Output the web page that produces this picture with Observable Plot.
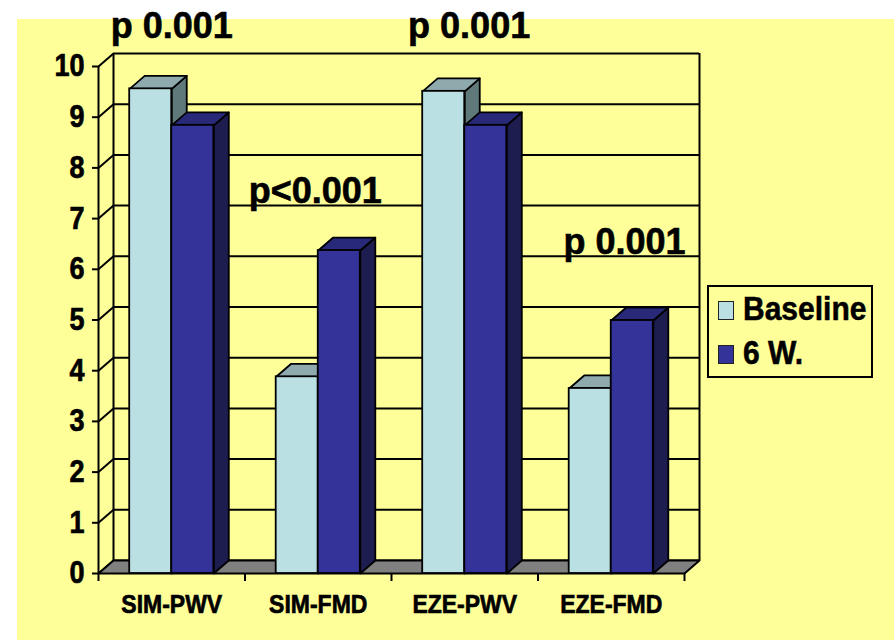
<!DOCTYPE html>
<html>
<head>
<meta charset="utf-8">
<script src="https://cdn.jsdelivr.net/npm/d3@7"></script>
<script src="https://cdn.jsdelivr.net/npm/@observablehq/plot@0.6"></script>
<style>
  html, body { margin: 0; padding: 0; background: #fff; }
  #page { position: relative; width: 894px; height: 640px; overflow: hidden; font-family: "Liberation Sans", Arial, sans-serif; }
  #panel { position: absolute; left: 17px; top: 19px; right: 0; bottom: 0; background: #ffff99; }
  #chart { position: absolute; left: 0; top: 0; }
  .legend { position: absolute; left: 707px; top: 285px; width: 166px; height: 93px; box-sizing: border-box; border: 2px solid #000; background: #ffff99; }
  .legend .sw { position: absolute; left: 9px; width: 16px; height: 19px; box-sizing: border-box; border: 1.5px solid #222; }
  .legend .lb { position: absolute; left: 34px; font-size: 30px; line-height: 30px; font-weight: bold; color: #000; white-space: nowrap; transform: scaleY(1.08); transform-origin: 0 80%; -webkit-text-stroke: 0.5px #000; }
</style>
</head>
<body>
<div id="page"><div id="panel"></div><div id="chart"></div><div class="legend" id="legend"></div></div>
<script>
const categories = ["SIM-PWV", "SIM-FMD", "EZE-PWV", "EZE-FMD"];
const seriesNames = ["Baseline", "6 W."];
const baselineValues = [9.56, 3.88, 9.51, 3.65];
const sixWeekValues = [8.84, 6.37, 8.84, 4.99];
const yTicks = [0, 1, 2, 3, 4, 5, 6, 7, 8, 9, 10];
const pLabels = ["p 0.001", "p<0.001", "p 0.001", "p 0.001"];

// face colours per series: front, top, side
const faceColors = {
  "Baseline": {front: "#bbe0e3", top: "#8eaaad", side: "#5f7879"},
  "6 W.": {front: "#333399", top: "#29297a", side: "#1d1d4f"}
};

const W = 894, H = 640;
const margin = {top: 66, right: 210, bottom: 67, left: 98};
const nCat = categories.length;
const yMax = 10;
const xUnit = (W - margin.left - margin.right) / nCat;
const yUnit = (H - margin.top - margin.bottom) / yMax;
const DX = 15 / xUnit;   // depth offset of the 3D box, in x units
const DY = 13 / yUnit;   // depth offset of the 3D box, in y units
const barW = 0.287;      // width of one column, in category units
// p-value text placement: baseline level (y units) and horizontal nudge (x units)
const labelPlacement = [{y: 10.57, dx: 0}, {y: 7.3, dx: -0.02}, {y: 10.57, dx: 0.03}, {y: 6.31, dx: 0.09}];

const bars = [];
categories.forEach((c, i) => {
  [baselineValues[i], sixWeekValues[i]].forEach((v, j) => {
    const x1 = i + 0.5 - barW + j * barW;
    bars.push({category: c, series: seriesNames[j], value: v, x1, x2: x1 + barW});
  });
});

// closed polygon as a list of vertices for Plot.line
function polygon(id, pts, fill) {
  return pts.concat([pts[0]]).map(([x, y]) => ({id, x, y, fill}));
}

const sides = bars.flatMap((b, k) => polygon("s" + k,
  [[b.x2, 0], [b.x2 + DX, DY], [b.x2 + DX, b.value + DY], [b.x2, b.value]],
  faceColors[b.series].side));
const tops = bars.flatMap((b, k) => polygon("t" + k,
  [[b.x1, b.value], [b.x2, b.value], [b.x2 + DX, b.value + DY], [b.x1 + DX, b.value + DY]],
  faceColors[b.series].top));
const floor = polygon("floor", [[0, 0], [nCat, 0], [nCat + DX, DY], [DX, DY]], "#808080");

const chart = Plot.plot({
  width: W,
  height: H,
  marginTop: margin.top,
  marginRight: margin.right,
  marginBottom: margin.bottom,
  marginLeft: margin.left,
  x: {domain: [0, nCat]},
  y: {domain: [0, yMax]},
  color: {type: "identity"},
  style: {background: "transparent", fontFamily: "'Liberation Sans', Arial, sans-serif", fontWeight: "bold", color: "#000", overflow: "visible"},
  marks: [
    // back wall grid
    Plot.ruleY(yTicks, {y: (d) => d + DY, x1: DX, x2: nCat + DX, stroke: "#000", strokeWidth: 2}),
    Plot.ruleX([DX, nCat + DX], {x: (d) => d, y1: DY, y2: yMax + DY, stroke: "#000", strokeWidth: 2}),
    // side wall grid
    Plot.link(yTicks, {x1: 0, y1: (d) => d, x2: DX, y2: (d) => d + DY, stroke: "#000", strokeWidth: 2}),
    // floor
    Plot.line(floor, {x: "x", y: "y", z: "id", fill: "fill", stroke: "#000", strokeWidth: 2}),
    Plot.ruleX([0], {y1: 0, y2: yMax, stroke: "#000", strokeWidth: 2}),
    // columns: side faces, top faces, then front faces
    Plot.line(sides, {x: "x", y: "y", z: "id", fill: "fill", stroke: "#000", strokeWidth: 1.8}),
    Plot.line(tops, {x: "x", y: "y", z: "id", fill: "fill", stroke: "#000", strokeWidth: 1.8}),
    Plot.rectY(bars, {x1: "x1", x2: "x2", y1: 0, y2: "value", fill: (d) => faceColors[d.series].front, stroke: "#000", strokeWidth: 1.8}),
    // axes
    Plot.axisY({ticks: yTicks, tickSize: 6, tickPadding: 8, fontSize: 27, fontWeight: "bold", label: null, strokeWidth: 2}),
    Plot.axisX({ticks: d3.range(0, nCat + 1), tickSize: 8, tickFormat: () => "", label: null, strokeWidth: 2}),
    Plot.text(categories, {x: (d, i) => i + 0.5, y: 0, text: (d) => d, dy: 39, lineAnchor: "bottom", fontSize: 23, fontWeight: "bold", fill: "#000"}),
    // p-values
    Plot.text(pLabels, {x: (d, i) => i + 0.5 + labelPlacement[i].dx, y: (d, i) => labelPlacement[i].y, text: (d) => d, lineAnchor: "bottom", fontSize: 36, fontWeight: "bold", fill: "#000"})
  ]
});
document.getElementById("chart").appendChild(chart);

// heavier lettering; axis and category labels use a slightly tall letterform
chart.querySelectorAll("text").forEach((t) => {
  t.setAttribute("stroke", "#000");
  t.setAttribute("stroke-width", 0.6);
  t.setAttribute("paint-order", "fill");
  const size = parseFloat(getComputedStyle(t).fontSize);
  if (!(size < 30)) return;
  const tr = t.getAttribute("transform");
  if (tr) {
    t.setAttribute("transform", tr + " scale(1,1.15)");
  } else {
    const x = t.getAttribute("x") || 0, y = t.getAttribute("y") || 0;
    t.setAttribute("transform", `translate(${x},${y}) scale(1,1.15)`);
    t.setAttribute("x", 0);
    t.setAttribute("y", 0);
  }
});

// legend
const legend = document.getElementById("legend");
seriesNames.forEach((name, i) => {
  const sw = document.createElement("div");
  sw.className = "sw";
  sw.style.top = (14 + i * 44) + "px";
  sw.style.background = faceColors[name].front;
  legend.appendChild(sw);
  const lb = document.createElement("div");
  lb.className = "lb";
  lb.style.top = (8 + i * 44) + "px";
  lb.textContent = name;
  legend.appendChild(lb);
});
</script>
</body>
</html>
